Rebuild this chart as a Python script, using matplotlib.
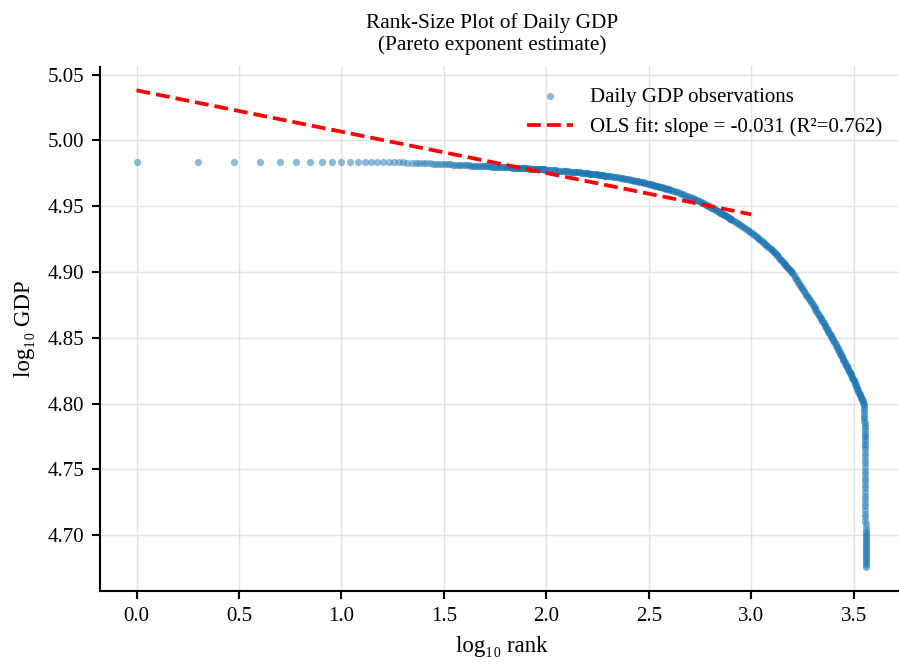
import numpy as np
import matplotlib
matplotlib.use("Agg")
import matplotlib.pyplot as plt

# ---------------- data ----------------
# ranks of the plotted observations (sorted from largest GDP downwards)
rank_head = list(range(1, 61))
rank_mid = (list(range(61, 101)) + list(range(102, 201, 2)) + list(range(204, 401, 4))
            + list(range(408, 801, 8)) + list(range(810, 1591, 15)))
rank_upper = list(range(1620, 3561, 20))
rank_tail = list(range(3562, 3595, 2)) + list(range(3595, 3616)) + list(range(3617, 3656, 2))

# log10 of daily GDP at those ranks
log_gdp_head = [
    4.9835, 4.9835, 4.9835, 4.9835, 4.9835, 4.9835, 4.9835, 4.9835, 4.9835, 4.9835,
    4.9835, 4.9835, 4.9835, 4.9835, 4.9835, 4.9835, 4.9834, 4.9834, 4.9833, 4.9832,
    4.9831, 4.9830, 4.9829, 4.9828, 4.9827, 4.9826, 4.9825, 4.9824, 4.9823, 4.9822,
    4.9821, 4.9820, 4.9818, 4.9817, 4.9816, 4.9815, 4.9814, 4.9813, 4.9812, 4.9812,
    4.9811, 4.9810, 4.9809, 4.9808, 4.9808, 4.9807, 4.9806, 4.9805, 4.9805, 4.9804,
    4.9803, 4.9803, 4.9802, 4.9801, 4.9801, 4.9800, 4.9799, 4.9799, 4.9798, 4.9797,
]
log_gdp_mid = [
    # ranks 61-100
    4.9797, 4.9796, 4.9796, 4.9795, 4.9795, 4.9794, 4.9794, 4.9793, 4.9793, 4.9792,
    4.9792, 4.9791, 4.9791, 4.9790, 4.9790, 4.9789, 4.9789, 4.9788, 4.9788, 4.9787,
    4.9787, 4.9786, 4.9786, 4.9785, 4.9785, 4.9784, 4.9784, 4.9783, 4.9783, 4.9782,
    4.9782, 4.9781, 4.9781, 4.9780, 4.9780, 4.9779, 4.9779, 4.9779, 4.9778, 4.9778,
    # ranks 102-200
    4.9777, 4.9776, 4.9775, 4.9774, 4.9773, 4.9772, 4.9771, 4.9770, 4.9769, 4.9768,
    4.9767, 4.9766, 4.9765, 4.9764, 4.9763, 4.9762, 4.9761, 4.9760, 4.9759, 4.9758,
    4.9757, 4.9756, 4.9756, 4.9755, 4.9754, 4.9753, 4.9752, 4.9751, 4.9750, 4.9749,
    4.9748, 4.9747, 4.9746, 4.9745, 4.9744, 4.9743, 4.9742, 4.9741, 4.9740, 4.9739,
    4.9738, 4.9737, 4.9736, 4.9735, 4.9734, 4.9733, 4.9733, 4.9732, 4.9731, 4.9730,
    # ranks 204-400
    4.9728, 4.9726, 4.9724, 4.9722, 4.9720, 4.9718, 4.9716, 4.9714, 4.9712, 4.9710,
    4.9709, 4.9707, 4.9705, 4.9702, 4.9700, 4.9697, 4.9695, 4.9693, 4.9691, 4.9689,
    4.9686, 4.9684, 4.9682, 4.9680, 4.9678, 4.9676, 4.9674, 4.9672, 4.9670, 4.9668,
    4.9665, 4.9663, 4.9661, 4.9659, 4.9656, 4.9654, 4.9652, 4.9650, 4.9648, 4.9646,
    4.9644, 4.9642, 4.9640, 4.9638, 4.9636, 4.9634, 4.9632, 4.9630, 4.9628, 4.9626,
    # ranks 408-800
    4.9622, 4.9617, 4.9613, 4.9608, 4.9604, 4.9599, 4.9595, 4.9590, 4.9586, 4.9581,
    4.9577, 4.9573, 4.9569, 4.9564, 4.9559, 4.9554, 4.9550, 4.9545, 4.9541, 4.9536,
    4.9532, 4.9527, 4.9523, 4.9518, 4.9512, 4.9507, 4.9503, 4.9499, 4.9495, 4.9490,
    4.9485, 4.9480, 4.9476, 4.9471, 4.9466, 4.9461, 4.9457, 4.9452, 4.9448, 4.9444,
    4.9440, 4.9435, 4.9431, 4.9427, 4.9423, 4.9418, 4.9414, 4.9410, 4.9406, 4.9402,
    # ranks 810-1590
    4.9396, 4.9388, 4.9380, 4.9372, 4.9365, 4.9357, 4.9350, 4.9342, 4.9334, 4.9327,
    4.9319, 4.9312, 4.9305, 4.9297, 4.9289, 4.9281, 4.9273, 4.9265, 4.9257, 4.9250,
    4.9242, 4.9234, 4.9226, 4.9219, 4.9211, 4.9204, 4.9197, 4.9190, 4.9183, 4.9176,
    4.9168, 4.9160, 4.9152, 4.9143, 4.9135, 4.9126, 4.9118, 4.9110, 4.9102, 4.9094,
    4.9085, 4.9077, 4.9070, 4.9062, 4.9054, 4.9046, 4.9039, 4.9032, 4.9025, 4.9017,
    4.9010, 4.9003, 4.8994,
]
log_gdp_upper = [
    4.8975, 4.8962, 4.8949, 4.8937, 4.8924, 4.8912, 4.8900, 4.8887, 4.8876, 4.8864,
    4.8852, 4.8841, 4.8829, 4.8818, 4.8807, 4.8796, 4.8785, 4.8774, 4.8763, 4.8752,
    4.8740, 4.8729, 4.8717, 4.8706, 4.8695, 4.8684, 4.8673, 4.8662, 4.8651, 4.8641,
    4.8630, 4.8619, 4.8609, 4.8599, 4.8588, 4.8578, 4.8568, 4.8558, 4.8548, 4.8538,
    4.8529, 4.8519, 4.8510, 4.8500, 4.8491, 4.8481, 4.8470, 4.8460, 4.8450, 4.8439,
    4.8429, 4.8419, 4.8409, 4.8399, 4.8389, 4.8379, 4.8370, 4.8360, 4.8351, 4.8341,
    4.8332, 4.8322, 4.8313, 4.8304, 4.8295, 4.8286, 4.8277, 4.8268, 4.8259, 4.8250,
    4.8241, 4.8232, 4.8224, 4.8215, 4.8206, 4.8198, 4.8189, 4.8181, 4.8171, 4.8161,
    4.8151, 4.8141, 4.8131, 4.8121, 4.8112, 4.8102, 4.8092, 4.8083, 4.8073, 4.8063,
    4.8054, 4.8045, 4.8035, 4.8026, 4.8017, 4.8008, 4.7999, 4.7990,
]
log_gdp_tail = [
    4.7968, 4.7950, 4.7931, 4.7909, 4.7890, 4.7872, 4.7851, 4.7833, 4.7812, 4.7794,
    4.7773, 4.7755, 4.7736, 4.7714, 4.7697, 4.7676, 4.7655,
    4.7628, 4.7601, 4.7575, 4.7546, 4.7520, 4.7491, 4.7466, 4.7437, 4.7411, 4.7382,
    4.7357, 4.7329, 4.7300, 4.7274, 4.7245, 4.7220, 4.7191, 4.7164, 4.7138, 4.7109,
    4.7083,
    4.7052, 4.7036, 4.7021, 4.7005, 4.6990, 4.6974, 4.6959, 4.6943, 4.6928, 4.6912,
    4.6897, 4.6881, 4.6866, 4.6850, 4.6835, 4.6819, 4.6804, 4.6788, 4.6773, 4.6758,
]

# OLS fit shown in the chart
fit_intercept = 5.038
fit_slope = -0.0314
fit_r2 = 0.762
fit_x_range = [0.0, 3.0]

title_text = "Rank-Size Plot of Daily GDP\n(Pareto exponent estimate)"
x_label = "log\u2081\u2080 rank"
y_label = "log\u2081\u2080 GDP"
scatter_label = "Daily GDP observations"
x_ticks = [0.0, 0.5, 1.0, 1.5, 2.0, 2.5, 3.0, 3.5]
y_ticks = [4.70, 4.75, 4.80, 4.85, 4.90, 4.95, 5.00, 5.05]

# ---------------- assemble ----------------
ranks = np.array(rank_head + rank_mid + rank_upper + rank_tail, dtype=float)
log_gdp = np.array(log_gdp_head + log_gdp_mid + log_gdp_upper + log_gdp_tail)
assert len(rank_mid) == len(log_gdp_mid), (len(rank_mid), len(log_gdp_mid))
assert len(ranks) == len(log_gdp), (len(ranks), len(log_gdp))
log_rank = np.log10(ranks)

fit_x = np.array(fit_x_range)
fit_y = fit_intercept + fit_slope * fit_x

# ---------------- style ----------------
plt.rcParams['font.family'] = ['Liberation Serif', 'DejaVu Serif']
plt.rcParams['axes.unicode_minus'] = False

DPI = 150
fig = plt.figure(figsize=(899 / DPI, 664 / DPI), dpi=DPI)
ax = fig.add_axes([100 / 899, 73 / 664, 803 / 899, 524.5 / 664])

ax.grid(True, color='#dddddd', linewidth=0.7, alpha=0.8)
ax.set_axisbelow(True)

ax.scatter(log_rank, log_gdp, s=12, color='#1f77b4', alpha=0.5, linewidths=0,
           label=scatter_label, zorder=2)
ax.plot(fit_x, fit_y, color='red', linestyle='--', linewidth=1.8,
        label=f"OLS fit: slope = {fit_slope:.3f} (R\u00b2={fit_r2:.3f})", zorder=3)

ax.set_xticks(x_ticks)
ax.set_yticks(y_ticks)
ax.set_xticklabels([f"{v:.1f}" for v in x_ticks])
ax.set_yticklabels([f"{v:.2f}" for v in y_ticks])
ax.tick_params(axis='both', labelsize=10, length=4, width=1.0, color='black')

for side in ('top', 'right'):
    ax.spines[side].set_visible(False)
for side in ('left', 'bottom'):
    ax.spines[side].set_linewidth(1.0)
    ax.spines[side].set_color('black')

ax.set_title(title_text, fontsize=10.2, pad=8, linespacing=1.15, x=0.488)
ax.set_xlabel(x_label, fontsize=11, labelpad=5)
ax.set_ylabel(y_label, fontsize=11, labelpad=6)

ax.legend(loc='upper right', frameon=False, fontsize=10, markerscale=1.0,
          handlelength=2.2, borderaxespad=0.6)

fig.savefig("out.png", dpi=DPI)
